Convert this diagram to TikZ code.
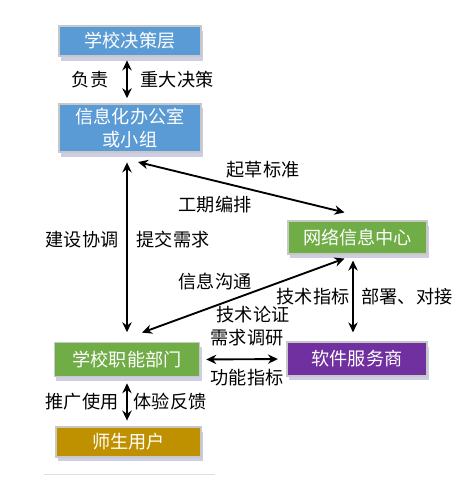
\documentclass[tikz,border=0pt]{standalone}
\usepackage{fontspec}
\newfontfamily\cjk{Noto Sans CJK SC}
\usetikzlibrary{arrows.meta, positioning, shadows}

\definecolor{boxblue}{HTML}{5B9BD5}
\definecolor{boxgreen}{HTML}{70AD47}
\definecolor{boxpurple}{HTML}{7030A0}
\definecolor{boxgold}{HTML}{BF9000}
\definecolor{boxrim}{HTML}{C8C8C8}

\begin{document}
\begin{tikzpicture}[
    x=0.03cm, y=-0.03cm,
    box/.style={rectangle, draw=boxrim, line width=1.5pt, text=white, align=center, inner sep=2pt, font=\cjk\fontsize{15.5}{19}\selectfont, minimum width=4.25cm, minimum height=0.95cm, drop shadow={shadow xshift=0.6mm, shadow yshift=-1.4mm, fill=blue!30!gray, opacity=0.3}},
    lbl/.style={font=\cjk\fontsize{15.5}{18}\selectfont, inner sep=1pt},
    link/.style={{Stealth[length=3mm, width=2.8mm]}-{Stealth[length=3mm, width=2.8mm]}, line width=1.6pt}
]
\useasboundingbox (0,0) rectangle (475,485);

% Nodes
\node[box, fill=boxblue, minimum height=0.9cm] (decide) at (130,41) {学校决策层};
\node[box, fill=boxblue, minimum height=1.45cm] (office) at (130,128) {信息化办公室\\或小组};
\node[box, fill=boxgreen, minimum width=4.15cm, minimum height=0.97cm] (netcenter) at (357.5,237.5) {网络信息中心};
\node[box, fill=boxgreen, minimum width=4.35cm, minimum height=1.02cm] (dept) at (127,359.5) {学校职能部门};
\node[box, fill=boxpurple, minimum width=4.2cm, minimum height=1cm] (vendor) at (357,359) {软件服务商};
\node[box, fill=boxgold, minimum width=4.35cm, minimum height=0.88cm] (users) at (128.5,442) {师生用户};

% Labels
\node[lbl] (l1) at (90,80) {负责};
\node[lbl] (l2) at (177,80) {重大决策};
\node[lbl] (l3) at (82,240) {建设协调};
\node[lbl] (l4) at (173,240) {提交需求};
\node[lbl] (l5) at (263,170) {起草标准};
\node[lbl] (l6) at (215,205) {工期编排};
\node[lbl] (l7) at (215,282) {信息沟通};
\node[lbl] (l8) at (253,315) {技术论证};
\node[lbl] (l9) at (247,338) {需求调研};
\node[lbl] (l10) at (313,297) {技术指标};
\node[lbl] (l11) at (407,297) {部署、对接};
\node[lbl] (l12) at (247,378) {功能指标};
\node[lbl] (l13) at (82,402) {推广使用};
\node[lbl] (l14) at (170,402) {体验反馈};

% Arrows
\draw[link, shorten <=3pt, shorten >=4pt] (decide.south -| dept.north) -- (office.north -| dept.north);
\draw[link, shorten <=8pt, shorten >=8pt] (office.south -| dept.north) -- (dept.north);
\draw[link] ([shift={(8,9)}]office.south) -- ([shift={(-13,-8)}]netcenter.north);
\draw[link] ([shift={(15,-9)}]dept.north) -- ([shift={(-13,4)}]netcenter.south);
\draw[link] ([shift={(-4.5,6)}]netcenter.south) -- ([shift={(-4,-9)}]vendor.north);
\draw[link, shorten <=5pt, shorten >=7pt] (dept.east) -- (vendor.west);
\draw[link, shorten <=5pt, shorten >=5pt] (dept.south) -- (users.north -| dept.south);

\draw[gray!25, line width=0.5pt] (44,474) -- (215,474);

\end{tikzpicture}
\end{document}
